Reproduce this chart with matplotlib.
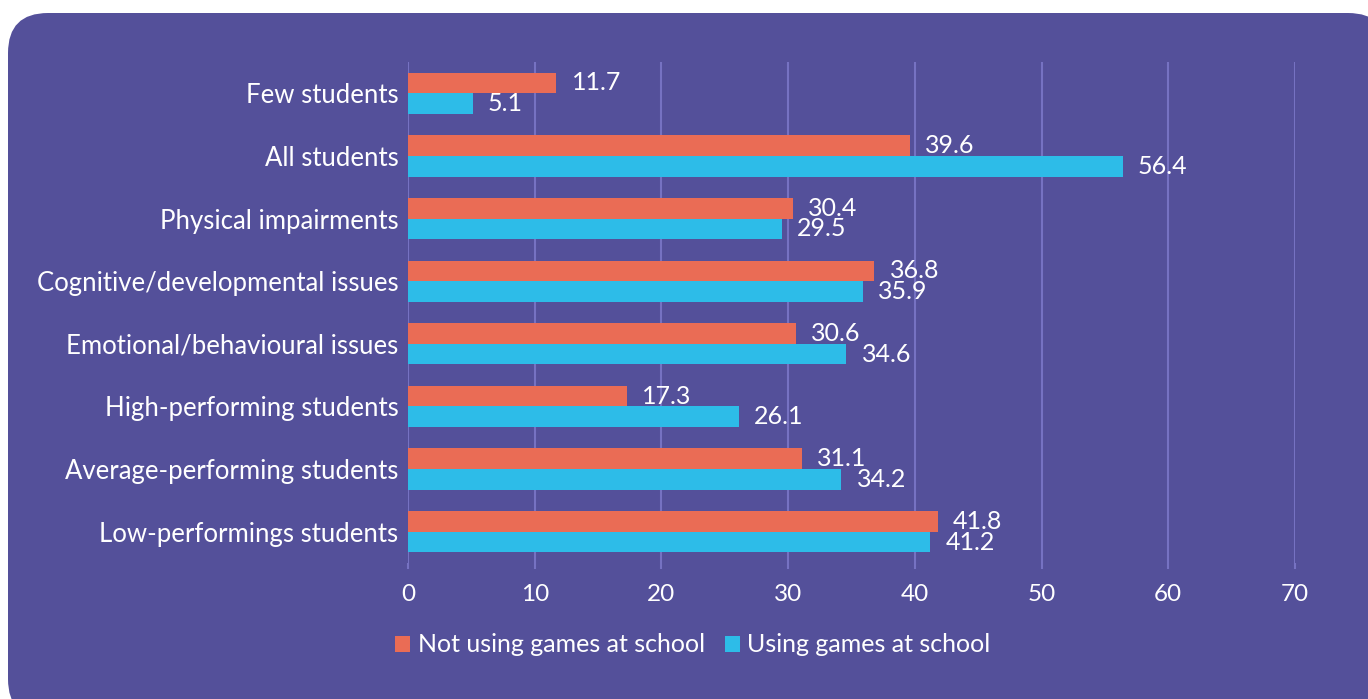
import numpy as np
import matplotlib.pyplot as plt
from matplotlib.patches import FancyBboxPatch
from matplotlib.transforms import IdentityTransform

categories = [
    "Few students",
    "All students",
    "Physical impairments",
    "Cognitive/developmental issues",
    "Emotional/behavioural issues",
    "High-performing students",
    "Average-performing students",
    "Low-performings students",
]
not_using = [11.7, 39.6, 30.4, 36.8, 30.6, 17.3, 31.1, 41.8]
using = [5.1, 56.4, 29.5, 35.9, 34.6, 26.1, 34.2, 41.2]
series_names = ["Not using games at school", "Using games at school"]
x_ticks = [0, 10, 20, 30, 40, 50, 60, 70]

panel = "#54509a"
grid = "#7672c2"
orange = "#ea6c55"
blue = "#2dbce8"

plt.rcParams["font.family"] = ["Lato", "DejaVu Sans"]

fig = plt.figure(figsize=(13.68, 6.99), dpi=100)
fig.patch.set_facecolor("white")

# rounded panel behind the chart, in pixel units
box = FancyBboxPatch((8, -20), 1380, 706, boxstyle="round,pad=0,rounding_size=40",
                     transform=IdentityTransform(), facecolor=panel, edgecolor="none", zorder=-5)
fig.patches.append(box)

ax = fig.add_axes([408 / 1368, 1 - 563 / 699, (1295 - 408) / 1368, (563 - 62) / 699])
ax.set_facecolor("none")
ax.set_zorder(2)

y = np.arange(len(categories))
h = 0.33
ax.barh(y - h / 2, not_using, height=h, color=orange, label=series_names[0], zorder=3)
ax.barh(y + h / 2, using, height=h, color=blue, label=series_names[1], zorder=3)

for i in range(len(categories)):
    ax.text(not_using[i] + 1.2, y[i] - h / 2, f"{not_using[i]:.1f}", color="white",
            fontsize=18, va="center", ha="left", zorder=4)
    ax.text(using[i] + 1.2, y[i] + h / 2, f"{using[i]:.1f}", color="white",
            fontsize=18, va="center", ha="left", zorder=4)

ax.set_ylim(len(categories) - 0.5, -0.5)
ax.set_xlim(0, 70)
ax.set_xticks(x_ticks)
ax.set_yticks(y)
ax.set_yticklabels(categories)
ax.xaxis.grid(True, color=grid, linewidth=1.5, zorder=1)
ax.set_axisbelow(True)
for s in ax.spines.values():
    s.set_visible(False)
ax.tick_params(axis="x", colors="white", labelsize=17.5, length=4, width=1.5, pad=11)
ax.tick_params(axis="x", color=grid)
ax.tick_params(axis="y", colors="white", labelsize=18.5, length=0, pad=7)

fig.legend(loc="center", bbox_to_anchor=(693 / 1368, 1 - 645 / 699), ncol=2, frameon=False,
           fontsize=18, labelcolor="white", handlelength=0.6, handleheight=0.6,
           handletextpad=0.3, columnspacing=0.8)

fig.savefig("out.png", dpi=100, facecolor="white")
